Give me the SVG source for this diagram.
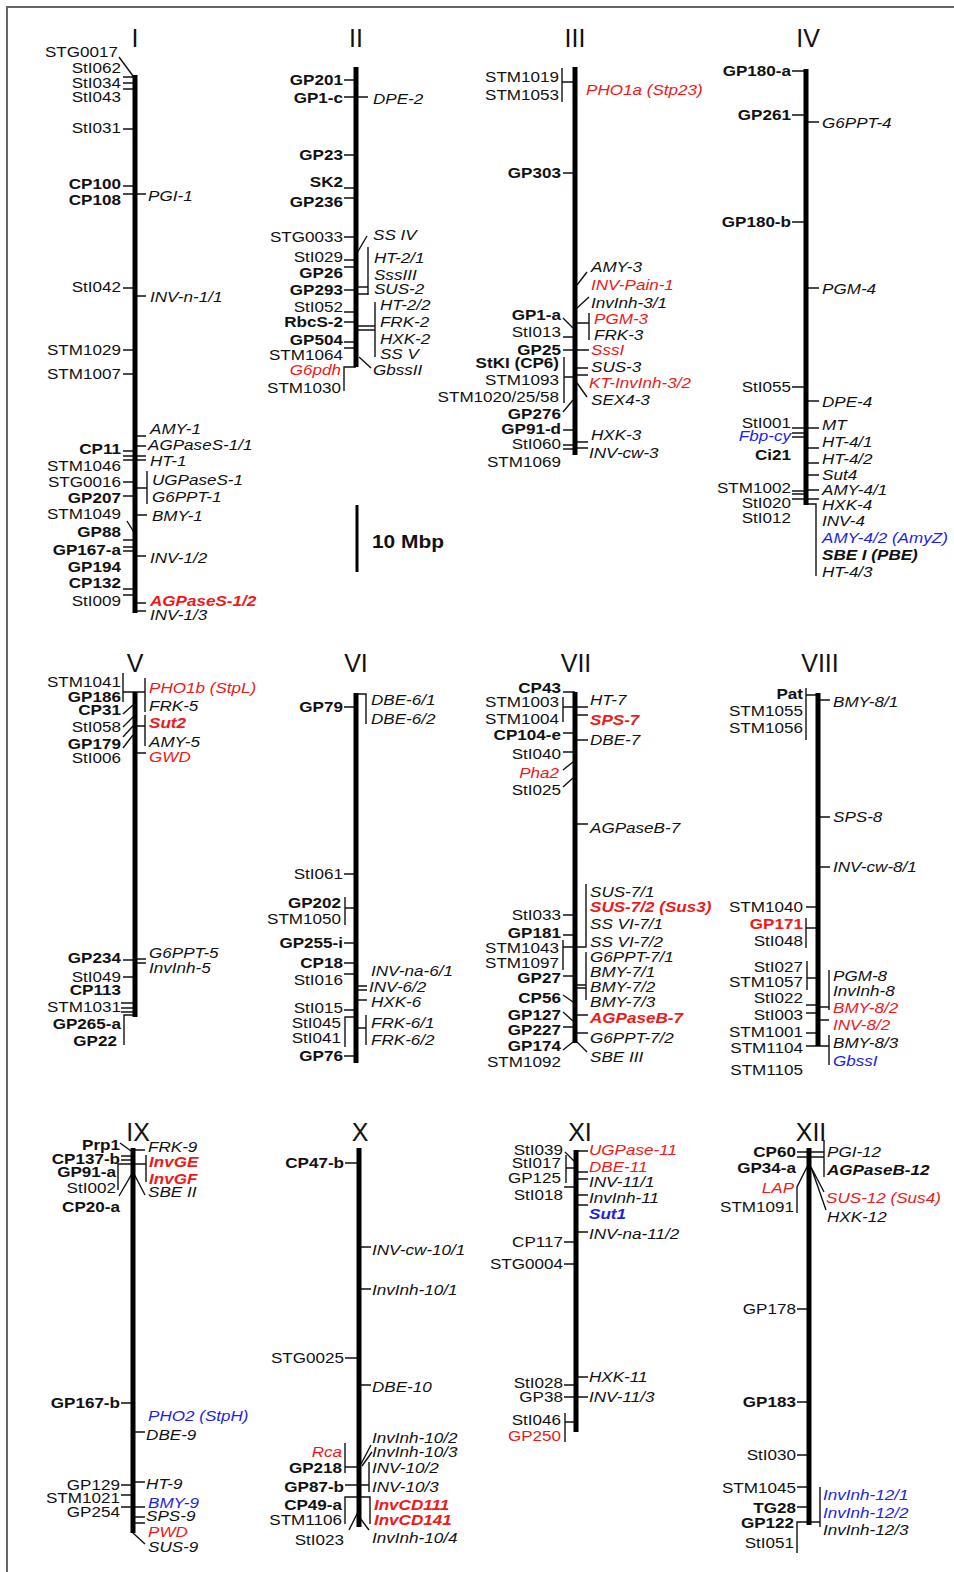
<svg xmlns="http://www.w3.org/2000/svg" width="954" height="1572" viewBox="0 0 954 1572">
<style>
.L,.R{font-family:"Liberation Sans",Arial,Helvetica,sans-serif;font-size:14px;fill:#111}
.L{text-anchor:end}
.R{font-style:italic}
.b{font-weight:bold}
.i{font-style:italic}
.r{fill:#f01818}
.u{fill:#1e1ee8}
.h{font-family:"Liberation Sans",Arial,sans-serif;font-size:25px;fill:#111;text-anchor:middle}
.c{stroke:#000;stroke-width:5}
.k{stroke:#111;stroke-width:1.4;fill:none}
</style>
<rect width="954" height="1572" fill="#fff"/>
<path d="M7 1572V7H954" fill="none" stroke="#666" stroke-width="2"/>
<g id="connectors" class="k">
<path d="M119 57L133 76M123 77H135M123 83H135M123 89H135M123 129H135M123 186H135M123 194H146M123 288H135M135 296H146M123 350H135M123 374H135M135 436H146M135 446H146M123 451H135M123 456H146M123 460H146M123 482H135M147 471V504M135 488H147M123 496H135M135 515H147M127 521L135 534M123 540H135M123 547H135M123 551H135M135 556H146M123 589H135M123 595H135M135 603H146M135 611H146"/>
<path d="M344 80H356M344 97H368M344 155H356M344 188H356M344 198H356M344 237H356M367 236L357 253M344 260H356M344 267H356M344 290H356M368 247V295M356 287H368M356 294H368M344 312H356M344 322H356M375 302V357M356 326H375M356 330H375M344 342H356M344 348H356M344 391V367H356M359 357L371 368"/>
<path d="M562 68V102M562 82H575M563 173H575M587 272L577 285M589 297L577 308M563 318L573 328M589 313V340M575 323H589M563 337H575M563 350H589M564 357V403M564 377H575M575 368H588M575 375H588M587 397L577 383M563 412L573 400M563 430H575M575 442H588M563 445H575M563 449H575M575 448H588"/>
<path d="M792 71H806M792 115H806M806 122H819M792 222H806M806 288H819M792 387H806M806 401H819M792 428H819M792 433H806M792 437H806M806 448H819M806 463H819M806 475H819M806 490H819M792 491H806M792 494H806M792 499H819M806 504H816V576"/>
<path d="M123 673V702M123 692H135M145 678V712M135 692H145M123 714L133 705M123 727L133 717M123 737L133 726M123 748L133 735M145 715V746M135 726H145M135 753H146M123 960H135M135 959H146M135 963H146M123 977H135M121 1003H135M121 1008H135M121 1012H135M124 1045V1015H135"/>
<path d="M356 694H366V724M344 707H356M344 874H356M345 897V925M345 908H356M344 943H356M344 963H356M344 974H356M356 986H367M356 990H367M356 1000H367M344 1010H356M345 1047V1017H356M366 1015V1045M356 1028H366M344 1056H356"/>
<path d="M563 692H575M563 697V722M563 707H588M575 715H588M563 733H575M575 740H588M563 752H575M563 770L573 762M563 787L573 778M575 824H588M586 884V947H575M563 915H575M563 935H575M563 940V970M563 947H575M586 952V1000M575 985H586M575 988H586M563 976H575M563 995L573 1002M563 1012L573 1021M575 1015H588M563 1027H575M575 1033H588M563 1050L573 1042M587 1052L577 1042"/>
<path d="M806 688V740M806 695H818M818 700H830M818 817H830M818 867H830M806 907H818M806 918V948M806 928H818M807 961V990M807 978H818M829 970V1010M818 1007H829M806 1005H818M806 1013H818M818 1020H829M806 1033H818M806 1046H829M829 1035V1065"/>
<path d="M120 1143L131 1151M133 1150H145M121 1156H133M121 1160H133M146 1155V1182M133 1164H146M118 1190V1164H133M119 1196L133 1172L145 1195M121 1403H133M133 1432H145M121 1485H133M133 1482H145M121 1495H133M121 1507H145M133 1517H145M133 1523H145M133 1533L145 1544"/>
<path d="M345 1163H359M359 1247H371M359 1289H371M345 1358H359M359 1385H371M371 1445L361 1464M372 1452L362 1466M345 1443V1473M345 1467H359M369 1462V1492M359 1485H369M345 1485H359M345 1524V1497H370V1524M349 1530L358 1512M369 1530L360 1518"/>
<path d="M565 1152L574 1161M576 1151H588M566 1155V1183M566 1168H576M576 1172H588M576 1179H588M564 1187H576M576 1195H588M576 1205H588M576 1232H588M564 1242H576M564 1264H576M576 1377H588M564 1385H576M564 1397H588M565 1413V1442M565 1422H576"/>
<path d="M797 1152H824M797 1157H824M824 1140V1177M797 1213V1187L808 1165M824 1192L811 1167M826 1210L811 1167M797 1309H809M797 1402H809M797 1455H809M797 1487H809M820 1487V1527M809 1522H820M797 1507H809M797 1553V1522H809"/>
</g>
<g id="chr-I">
<line class="c" x1="135" y1="75" x2="135" y2="613"/>
<text class="h" x="135" y="47">I</text>
<g class="L" transform="translate(121 0) scale(1.22 1)">
<text x="-2.5" y="57">STG0017</text><text y="73">StI062</text><text y="88">StI034</text><text y="102">StI043</text><text y="133">StI031</text>
<text class="b" y="189">CP100</text><text class="b" y="205">CP108</text><text y="292">StI042</text><text y="355">STM1029</text><text y="379">STM1007</text>
<text class="b" y="454">CP11</text><text y="471">STM1046</text><text y="487">STG0016</text><text class="b" y="503">GP207</text><text y="519">STM1049</text>
<text class="b" y="537">GP88</text><text class="b" y="555">GP167-a</text><text class="b" y="572">GP194</text><text class="b" y="588">CP132</text><text y="606">StI009</text>
</g>
<g class="R" transform="translate(150 0) scale(1.22 1)">
<text x="-1.6" y="201">PGI-1</text><text y="302">INV-n-1/1</text><text y="434">AMY-1</text><text x="-1.6" y="450">AGPaseS-1/1</text><text y="466">HT-1</text>
<text x="1.6" y="485">UGPaseS-1</text><text x="1.6" y="502">G6PPT-1</text><text x="1.6" y="521">BMY-1</text><text y="563">INV-1/2</text>
<text class="r b" y="606">AGPaseS-1/2</text><text y="620">INV-1/3</text>
</g>
</g>
<g id="chr-II">
<line class="c" x1="356" y1="67" x2="356" y2="367"/>
<text class="h" x="356" y="47">II</text>
<g class="L" transform="translate(343 0) scale(1.22 1)">
<text class="b" y="85">GP201</text><text class="b" y="103">GP1-c</text><text class="b" y="160">GP23</text><text class="b" y="187">SK2</text><text class="b" y="207">GP236</text>
<text y="242">STG0033</text><text y="262">StI029</text><text class="b" y="278">GP26</text><text class="b" y="295">GP293</text><text y="312">StI052</text>
<text class="b" y="327">RbcS-2</text><text class="b" y="345">GP504</text><text y="360">STM1064</text><text class="i r" x="-1.6" y="375">G6pdh</text><text x="-1.6" y="393">STM1030</text>
</g>
<g class="R" transform="translate(373 0) scale(1.22 1)">
<text y="104">DPE-2</text><text y="240">SS IV</text><text x="0.8" y="263">HT-2/1</text><text x="0.8" y="280">SssIII</text><text x="0.8" y="294">SUS-2</text>
<text x="5.7" y="310">HT-2/2</text><text x="5.7" y="327">FRK-2</text><text x="5.7" y="344">HXK-2</text><text x="5.7" y="359">SS V</text><text y="375">GbssII</text>
</g>
</g>
<g id="chr-III">
<line class="c" x1="575" y1="67" x2="575" y2="455"/>
<text class="h" x="575" y="47">III</text>
<g class="L" transform="translate(561 0) scale(1.22 1)">
<text x="-1.6" y="82">STM1019</text><text x="-1.6" y="100">STM1053</text><text class="b" y="178">GP303</text><text class="b" y="320">GP1-a</text><text y="337">StI013</text>
<text class="b" y="355">GP25</text><text class="b" x="-1.6" y="368">StKI (CP6)</text><text x="-1.6" y="385">STM1093</text><text x="-1.6" y="402">STM1020/25/58</text>
<text class="b" y="419">GP276</text><text class="b" y="434">GP91-d</text><text y="449">StI060</text><text y="467">STM1069</text>
</g>
<g class="R" transform="translate(591 0) scale(1.22 1)">
<text class="r" x="-4.1" y="95">PHO1a (Stp23)</text><text y="272">AMY-3</text><text class="r" y="290">INV-Pain-1</text><text y="308">InvInh-3/1</text>
<text class="r" x="2.5" y="324">PGM-3</text><text x="2.5" y="340">FRK-3</text><text class="r" y="355">SssI</text><text y="372">SUS-3</text>
<text class="r" x="-1.6" y="388">KT-InvInh-3/2</text><text y="405">SEX4-3</text><text y="440">HXK-3</text><text x="-1.6" y="458">INV-cw-3</text>
</g>
</g>
<g id="chr-IV">
<line class="c" x1="806" y1="69" x2="806" y2="505"/>
<text class="h" x="808" y="47">IV</text>
<g class="L" transform="translate(791 0) scale(1.22 1)">
<text class="b" y="76">GP180-a</text><text class="b" y="120">GP261</text><text class="b" y="227">GP180-b</text><text y="392">StI055</text><text y="428">StI001</text>
<text class="i u" y="441">Fbp-cy</text><text class="b" y="460">Ci21</text><text y="493">STM1002</text><text y="508">StI020</text><text y="523">StI012</text>
</g>
<g class="R" transform="translate(822 0) scale(1.22 1)">
<text y="128">G6PPT-4</text><text y="294">PGM-4</text><text y="407">DPE-4</text><text y="430">MT</text><text y="447">HT-4/1</text>
<text y="464">HT-4/2</text><text y="480">Sut4</text><text y="495">AMY-4/1</text><text y="510">HXK-4</text><text y="526">INV-4</text>
<text class="u" y="543">AMY-4/2 (AmyZ)</text><text class="b" y="560">SBE I (PBE)</text><text y="577">HT-4/3</text>
</g>
</g>
<g id="chr-V">
<line class="c" x1="135" y1="692" x2="135" y2="1017"/>
<text class="h" x="135" y="672">V</text>
<g class="L" transform="translate(121 0) scale(1.22 1)">
<text y="687">STM1041</text><text class="b" y="702">GP186</text><text class="b" y="715">CP31</text><text y="732">StI058</text><text class="b" y="749">GP179</text>
<text y="763">StI006</text><text class="b" y="963">GP234</text><text y="982">StI049</text><text class="b" y="995">CP113</text><text y="1012">STM1031</text>
<text class="b" y="1029">GP265-a</text><text class="b" x="-3.3" y="1046">GP22</text>
</g>
<g class="R" transform="translate(149 0) scale(1.22 1)">
<text class="r" y="693">PHO1b (StpL)</text><text y="711">FRK-5</text><text class="r b" y="728">Sut2</text><text y="747">AMY-5</text>
<text class="r" y="762">GWD</text><text y="958">G6PPT-5</text><text y="973">InvInh-5</text>
</g>
</g>
<g id="chr-VI">
<line class="c" x1="356" y1="693" x2="356" y2="1063"/>
<text class="h" x="356" y="672">VI</text>
<g class="L" transform="translate(343 0) scale(1.22 1)">
<text class="b" y="712">GP79</text><text y="879">StI061</text><text class="b" x="-1.6" y="908">GP202</text><text x="-1.6" y="924">STM1050</text>
<text class="b" y="948">GP255-i</text><text class="b" y="968">CP18</text><text y="985">StI016</text><text y="1013">StI015</text>
<text x="-1.6" y="1028">StI045</text><text x="-1.6" y="1043">StI041</text><text class="b" y="1061">GP76</text>
</g>
<g class="R" transform="translate(371 0) scale(1.22 1)">
<text y="705">DBE-6/1</text><text y="724">DBE-6/2</text><text y="976">INV-na-6/1</text><text x="-1.6" y="992">INV-6/2</text>
<text y="1007">HXK-6</text><text y="1028">FRK-6/1</text><text y="1045">FRK-6/2</text>
</g>
</g>
<g id="chr-VII">
<line class="c" x1="575" y1="692" x2="575" y2="1043"/>
<text class="h" x="576" y="672">VII</text>
<g class="L" transform="translate(561 0) scale(1.22 1)">
<text class="b" y="693">CP43</text><text x="-1.6" y="707">STM1003</text><text x="-1.6" y="724">STM1004</text><text class="b" y="740">CP104-e</text>
<text y="759">StI040</text><text class="i r" x="-1.6" y="778">Pha2</text><text y="795">StI025</text><text y="920">StI033</text>
<text class="b" y="938">GP181</text><text x="-1.6" y="953">STM1043</text><text x="-1.6" y="968">STM1097</text><text class="b" y="983">GP27</text>
<text class="b" y="1003">CP56</text><text class="b" y="1020">GP127</text><text class="b" y="1035">GP227</text><text class="b" y="1051">GP174</text><text y="1067">STM1092</text>
</g>
<g class="R" transform="translate(590 0) scale(1.22 1)">
<text y="705">HT-7</text><text class="r b" y="725">SPS-7</text><text y="745">DBE-7</text><text y="833">AGPaseB-7</text>
<text y="897">SUS-7/1</text><text class="r b" y="912">SUS-7/2 (Sus3)</text><text y="929">SS VI-7/1</text><text y="947">SS VI-7/2</text>
<text y="962">G6PPT-7/1</text><text y="977">BMY-7/1</text><text y="992">BMY-7/2</text><text y="1007">BMY-7/3</text>
<text class="r b" y="1023">AGPaseB-7</text><text y="1043">G6PPT-7/2</text><text y="1062">SBE III</text>
</g>
</g>
<g id="chr-VIII">
<line class="c" x1="818" y1="693" x2="818" y2="1046"/>
<text class="h" x="820" y="672">VIII</text>
<g class="L" transform="translate(803 0) scale(1.22 1)">
<text class="b" y="699">Pat</text><text y="716">STM1055</text><text y="733">STM1056</text><text y="912">STM1040</text>
<text class="b r" y="929">GP171</text><text y="946">StI048</text><text y="972">StI027</text><text y="987">STM1057</text>
<text y="1003">StI022</text><text y="1020">StI003</text><text y="1037">STM1001</text><text y="1053">STM1104</text><text y="1075">STM1105</text>
</g>
<g class="R" transform="translate(833 0) scale(1.22 1)">
<text y="707">BMY-8/1</text><text y="822">SPS-8</text><text y="872">INV-cw-8/1</text><text y="981">PGM-8</text>
<text y="996">InvInh-8</text><text class="r" y="1013">BMY-8/2</text><text class="r" y="1030">INV-8/2</text><text y="1048">BMY-8/3</text><text class="u" y="1066">GbssI</text>
</g>
</g>
<g id="chr-IX">
<line class="c" x1="133" y1="1148" x2="133" y2="1533"/>
<text class="h" x="138" y="1141">IX</text>
<g class="L" transform="translate(120 0) scale(1.22 1)">
<text class="b" y="1150">Prp1</text><text class="b" y="1164">CP137-b</text><text class="b" x="-3.3" y="1177">GP91-a</text><text x="-3.3" y="1193">StI002</text>
<text class="b" y="1212">CP20-a</text><text class="b" y="1408">GP167-b</text><text y="1490">GP129</text><text y="1503">STM1021</text><text y="1517">GP254</text>
</g>
<g class="R" transform="translate(148 0) scale(1.22 1)">
<text y="1152">FRK-9</text><text class="r b" x="0.8" y="1167">InvGE</text><text class="r b" x="0.8" y="1184">InvGF</text><text y="1197">SBE II</text>
<text class="u" y="1421">PHO2 (StpH)</text><text x="-1.6" y="1440">DBE-9</text><text x="-1.6" y="1489">HT-9</text><text class="u" y="1508">BMY-9</text>
<text x="-1.6" y="1521">SPS-9</text><text class="r" y="1537">PWD</text><text y="1552">SUS-9</text>
</g>
</g>
<g id="chr-X">
<line class="c" x1="359" y1="1148" x2="359" y2="1527"/>
<text class="h" x="360" y="1141">X</text>
<g class="L" transform="translate(344 0) scale(1.22 1)">
<text class="b" y="1168">CP47-b</text><text y="1363">STG0025</text><text class="i r" x="-1.6" y="1457">Rca</text><text class="b" x="-1.6" y="1473">GP218</text>
<text class="b" y="1492">GP87-b</text><text class="b" x="-1.6" y="1510">CP49-a</text><text x="-1.6" y="1525">STM1106</text><text y="1545">StI023</text>
</g>
<g class="R" transform="translate(372 0) scale(1.22 1)">
<text y="1255">INV-cw-10/1</text><text y="1295">InvInh-10/1</text><text y="1392">DBE-10</text><text y="1443">InvInh-10/2</text>
<text y="1457">InvInh-10/3</text><text y="1473">INV-10/2</text><text y="1492">INV-10/3</text><text class="r b" x="1.6" y="1510">InvCD111</text>
<text class="r b" x="1.6" y="1525">InvCD141</text><text y="1543">InvInh-10/4</text>
</g>
</g>
<g id="chr-XI">
<line class="c" x1="576" y1="1150" x2="576" y2="1432"/>
<text class="h" x="580" y="1141">XI</text>
<g class="L" transform="translate(563 0) scale(1.22 1)">
<text y="1155">StI039</text><text x="-1.6" y="1168">StI017</text><text x="-1.6" y="1183">GP125</text><text y="1200">StI018</text>
<text y="1247">CP117</text><text y="1269">STG0004</text><text y="1388">StI028</text><text y="1402">GP38</text>
<text x="-1.6" y="1425">StI046</text><text class="r" x="-1.6" y="1441">GP250</text>
</g>
<g class="R" transform="translate(589 0) scale(1.22 1)">
<text class="r" y="1155">UGPase-11</text><text class="r" y="1172">DBE-11</text><text y="1187">INV-11/1</text><text y="1203">InvInh-11</text>
<text class="u b" y="1219">Sut1</text><text y="1239">INV-na-11/2</text><text y="1382">HXK-11</text><text y="1402">INV-11/3</text>
</g>
</g>
<g id="chr-XII">
<line class="c" x1="809" y1="1148" x2="809" y2="1525"/>
<text class="h" x="811" y="1141">XII</text>
<g class="L" transform="translate(796 0) scale(1.22 1)">
<text class="b" y="1157">CP60</text><text class="b" y="1173">GP34-a</text><text class="i r" x="-1.6" y="1193">LAP</text><text x="-1.6" y="1212">STM1091</text>
<text y="1314">GP178</text><text class="b" y="1407">GP183</text><text y="1460">StI030</text><text y="1493">STM1045</text>
<text class="b" y="1513">TG28</text><text class="b" x="-1.6" y="1528">GP122</text><text x="-1.6" y="1548">StI051</text>
</g>
<g class="R" transform="translate(827 0) scale(1.22 1)">
<text y="1157">PGI-12</text><text class="b" y="1175">AGPaseB-12</text><text class="r" x="-0.8" y="1203">SUS-12 (Sus4)</text><text y="1222">HXK-12</text>
<text class="u" x="-3.3" y="1500">InvInh-12/1</text><text class="u" x="-3.3" y="1518">InvInh-12/2</text><text x="-3.3" y="1535">InvInh-12/3</text>
</g>
</g>
<g id="scale-bar">
<line x1="357" y1="505" x2="357" y2="572" stroke="#000" stroke-width="3"/>
<text transform="matrix(1.1 0 0 1 372 548)" font-family="Liberation Sans, Arial, sans-serif" font-size="19" font-weight="bold" fill="#111">10 Mbp</text>
</g>
</svg>
